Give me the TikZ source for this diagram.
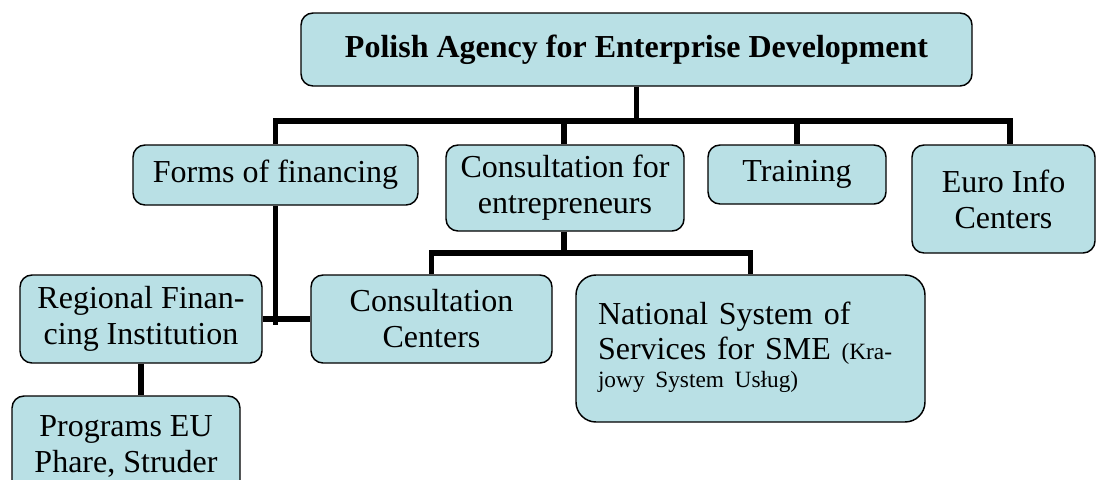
\documentclass[tikz,border=0pt]{standalone}
\usepackage{fontspec}
\setmainfont{Liberation Serif}
\definecolor{boxfill}{RGB}{185,224,229}
\newcommand\boxfont{\fontsize{24pt}{27pt}\selectfont}
\newcommand\notefont{\fontsize{17.5pt}{20pt}\selectfont}
\begin{document}
\begin{tikzpicture}[x=0.75pt,y=-0.75pt,
  box/.style={draw, line width=1.1pt, fill=boxfill, rounded corners=9pt,
              inner sep=0pt, align=center, font=\boxfont},
  conn/.style={line width=4.4pt}]
\useasboundingbox (0,0) rectangle (1096,479);

% boxes
\node[box, minimum width=503.25pt, minimum height=54.75pt, font=\boxfont\bfseries]
  (top) at (636.5,49.5) {Polish Agency for Enterprise Development};
\node[box, minimum width=213.75pt, minimum height=45pt]
  (forms) at (275.5,175) {Forms of financing};
\node[box, minimum width=178.5pt, minimum height=64.5pt]
  (cons) at (565,188) {Consultation for\\entrepreneurs};
\node[box, minimum width=133.5pt, minimum height=44.25pt]
  (train) at (797,174.5) {Training};
\node[box, minimum width=137.25pt, minimum height=81pt]
  (euro) at (1003.5,199) {Euro Info\\Centers};
\node[box, minimum width=181.5pt, minimum height=66pt]
  (rfi) at (141,319) {Regional Finan-\\cing Institution};
\node[box, minimum width=180.75pt, minimum height=66pt]
  (cc) at (431.5,319) {Consultation\\Centers};
\node[box, rounded corners=15pt, minimum width=261.75pt, minimum height=110.25pt,
      text width=228.75pt, align=left]
  (nss) at (750.5,348.5) {%
    \begin{tabular}{@{}l@{}}
      National System of\\[-1pt]
      Services for SME {\notefont(Kra-}\\[-6pt]
      {\notefont jowy System Usług)}
    \end{tabular}};
\node[box, minimum width=171pt, minimum height=75.75pt]
  (prog) at (126,446.5) {Programs EU\\Phare, Struder};

% junctions
\coordinate (j0) at (636.5,121);
\coordinate (j1) at (564,253);
\coordinate (j2) at (276,325);

% connectors
\draw[conn] (top.south) -- (j0);
\draw[conn] (forms.north) |- (j0) -| ([xshift=4.9pt]euro.north);
\draw[conn] ([xshift=-0.75pt]cons.north) -- ([xshift=-0.75pt]cons.north |- j0);
\draw[conn] (train.north) -- (train.north |- j0);
\draw[conn] ([xshift=-0.75pt]cons.south) -- (j1);
\draw[conn] (cc.north) |- (j1) -| (nss.north);
\draw[conn] (forms.south) -- (forms.south |- j2);
\draw[conn] (rfi.east) -- (cc.west);
\draw[conn] (rfi.south) -- (rfi.south |- prog.north);
\end{tikzpicture}
\end{document}
